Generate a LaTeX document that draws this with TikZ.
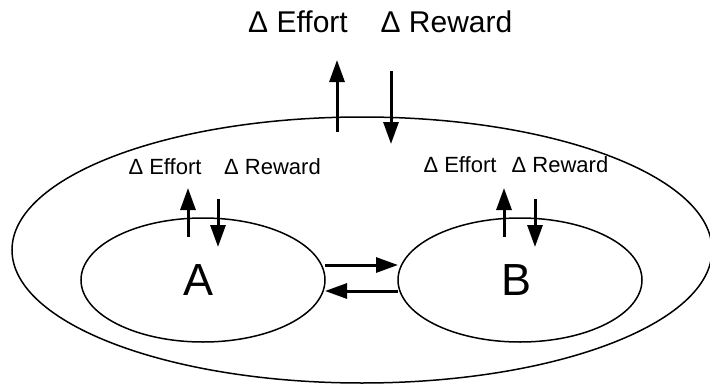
\documentclass[tikz,border=0pt]{standalone}
\usepackage{fontspec}
\setmainfont{Liberation Sans}
\usetikzlibrary{shapes.geometric,arrows.meta}
\tikzset{
  oval/.style={draw,ellipse,line width=1.5pt,inner sep=0pt},
  flow/.style={line width=3pt,-{Triangle[width=15pt,length=22pt]}},
  bigtxt/.style={anchor=base,inner sep=0pt,font=\fontsize{30}{36}\selectfont},
  smalltxt/.style={anchor=base,inner sep=0pt,font=\fontsize{22}{26}\selectfont},
  lettertxt/.style={anchor=base,inner sep=0pt,font=\fontsize{45}{54}\selectfont},
}
\begin{document}
\begin{tikzpicture}[x=1pt,y=-1pt]
\useasboundingbox (0,0) rectangle (710,388);
% ellipses
\node[oval,minimum width=700pt,minimum height=266pt] (outer) at (362,250) {};
\node[oval,minimum width=244pt,minimum height=124pt] (ea) at (203,280) {};
\node[oval,minimum width=244pt,minimum height=124pt] (eb) at (520,280) {};
% letters
\node[lettertxt] (la) at (199,295) {A};
\node[lettertxt] (lb) at (517,295) {B};
% top labels
\node[bigtxt] (te) at (298,32) {Δ Effort};
\node[bigtxt] (tr) at (446.5,32) {Δ Reward};
% small labels
\node[smalltxt] (ae) at (165,174) {Δ Effort};
\node[smalltxt] (ar) at (272.5,174) {Δ Reward};
\node[smalltxt] (be) at (460,172) {Δ Effort};
\node[smalltxt] (br) at (560,172) {Δ Reward};
% arrow end points
\coordinate (tu0) at (337,132); \coordinate (tu1) at (337,60);
\coordinate (td0) at (391,71);  \coordinate (td1) at (391,144);
\coordinate (au0) at (188,237); \coordinate (au1) at (188,188);
\coordinate (ad0) at (218,199); \coordinate (ad1) at (218,247);
\coordinate (bu0) at (504,237); \coordinate (bu1) at (504,188);
\coordinate (bd0) at (535,199); \coordinate (bd1) at (535,247);
\coordinate (ab0) at (325,265); \coordinate (ab1) at (398,265);
\coordinate (ba0) at (398,291); \coordinate (ba1) at (325,291);
% arrows
\draw[flow] (tu0) -- (tu1);
\draw[flow] (td0) -- (td1);
\draw[flow] (au0) -- (au1);
\draw[flow] (ad0) -- (ad1);
\draw[flow] (bu0) -- (bu1);
\draw[flow] (bd0) -- (bd1);
\draw[flow] (ab0) -- (ab1);
\draw[flow] (ba0) -- (ba1);
\end{tikzpicture}
\end{document}
